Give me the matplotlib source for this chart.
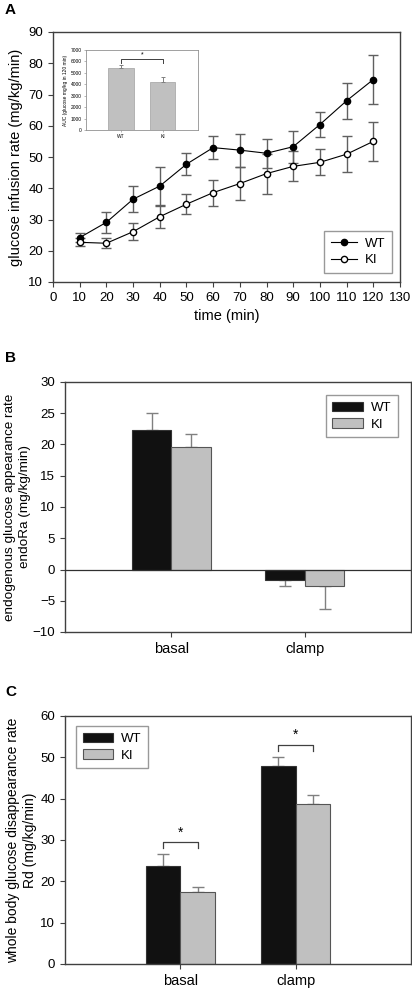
import matplotlib
matplotlib.use("Agg")
import matplotlib.pyplot as plt
import numpy as np

plt.rcParams['font.family'] = ['Liberation Sans', 'DejaVu Sans']

# ---- Panel A data ----
time_min = [10, 20, 30, 40, 50, 60, 70, 80, 90, 100, 110, 120]
gir_wt = [24.2, 29.1, 36.5, 40.7, 47.7, 53.0, 52.2, 51.2, 53.3, 60.4, 68.0, 74.8]
gir_wt_err = [1.4, 3.4, 4.2, 6.2, 3.5, 3.7, 5.3, 4.6, 5.1, 3.9, 5.8, 7.7]
gir_ki = [22.7, 22.4, 26.1, 30.9, 34.9, 38.6, 41.5, 44.7, 47.0, 48.3, 50.9, 55.0]
gir_ki_err = [1.3, 1.6, 2.7, 3.5, 3.2, 4.2, 5.3, 6.4, 4.8, 4.2, 5.7, 6.3]

# inset AUC
auc_groups = ['WT', 'KI']
auc_vals = [5400, 4230]
auc_err = [290, 380]

# ---- Panel B data ----
categories = ['basal', 'clamp']
endora_wt = [22.35, -1.6]
endora_wt_err = [2.65, 1.1]
endora_ki = [19.6, -2.7]
endora_ki_err = [2.05, 3.55]

# ---- Panel C data ----
rd_wt = [23.7, 47.8]
rd_wt_err = [2.8, 2.3]
rd_ki = [17.5, 38.7]
rd_ki_err = [1.2, 2.2]

W, H = 412, 992
fig = plt.figure(figsize=(W / 100, H / 100), dpi=100)

SP = '#404040'
ERR = '#808080'
GRAY = '#c0c0c0'
TFS = 9.5
LFS = 10.5


def style_axes(ax):
    for s in ax.spines.values():
        s.set_color(SP)
        s.set_linewidth(1.0)
    ax.tick_params(axis='both', labelsize=TFS, color=SP, length=3.5, width=0.8)


def fax(l, t, r, b):
    return fig.add_axes([l / W, 1 - b / H, (r - l) / W, (b - t) / H])


# ================= Panel A =================
axA = fax(53, 32, 400, 282)
axA.errorbar(time_min, gir_wt, yerr=gir_wt_err, color='black', lw=0.8,
             marker='o', ms=4.5, mfc='black', mec='black', ecolor='#606060',
             elinewidth=1.0, capsize=3.5, capthick=1.0, label='WT', zorder=3)
axA.errorbar(time_min, gir_ki, yerr=gir_ki_err, color='black', lw=0.8,
             marker='o', ms=4.5, mfc='white', mec='black', ecolor='#606060',
             elinewidth=1.0, capsize=3.5, capthick=1.0, label='KI', zorder=3)
axA.set_xlim(0, 130)
axA.set_ylim(10, 90)
axA.set_xticks(np.arange(0, 131, 10))
axA.set_yticks(np.arange(10, 91, 10))
axA.set_xlabel('time (min)', fontsize=LFS)
axA.set_ylabel('glucose infusion rate (mg/kg/min)', fontsize=LFS, labelpad=4)
style_axes(axA)
hA, lA = axA.get_legend_handles_labels()
hA = [h[0] for h in hA]
legA = axA.legend(hA, lA, loc='lower right', bbox_to_anchor=(0.977, 0.036),
                  borderaxespad=0, fontsize=9.5, frameon=True, fancybox=False,
                  edgecolor='#808080', handlelength=2.0, borderpad=0.5,
                  labelspacing=0.35, handletextpad=0.6)
legA.get_frame().set_linewidth(1.0)

# inset
axI = fax(86, 50, 198, 130)
xi = np.arange(len(auc_groups))
axI.bar(xi, auc_vals, width=0.61, color=GRAY, edgecolor='#a0a0a0', lw=0.5)
axI.errorbar(xi, auc_vals, yerr=[[0, 0], auc_err], fmt='none', ecolor=ERR,
             elinewidth=0.7, capsize=1.5, capthick=0.7)
axI.set_xlim(-0.84, 1.85)
axI.set_ylim(0, 7000)
axI.set_yticks(np.arange(0, 7001, 1000))
axI.set_xticks(xi)
axI.set_xticklabels(auc_groups)
axI.tick_params(axis='both', labelsize=3.5, length=1.5, width=0.4, pad=1.5, color='#808080')
axI.set_ylabel('AUC (glucose mg/kg in 120 min)', fontsize=3.5, labelpad=2)
for s in axI.spines.values():
    s.set_color('#909090')
    s.set_linewidth(0.6)
axI.plot([0, 0, 1, 1], [5830, 6240, 6240, 5830], color='#404040', lw=0.7)
axI.text(0.5, 6300, '*', ha='center', va='bottom', fontsize=5)

fig.text(5 / W, 1 - 10 / H, 'A', fontsize=11, fontweight='bold', va='center', ha='left')

# ================= Panel B =================
axB = fax(65, 382, 411, 632)
xc = np.arange(len(categories))
bw = 0.3
axB.bar(xc - bw / 2, endora_wt, width=bw, color='#111111', edgecolor='#333333', lw=0.8, label='WT', zorder=2)
axB.bar(xc + bw / 2, endora_ki, width=bw, color=GRAY, edgecolor='#555555', lw=0.8, label='KI', zorder=2)
wt_e = [[0 if v >= 0 else e for v, e in zip(endora_wt, endora_wt_err)],
        [e if v >= 0 else 0 for v, e in zip(endora_wt, endora_wt_err)]]
ki_e = [[0 if v >= 0 else e for v, e in zip(endora_ki, endora_ki_err)],
        [e if v >= 0 else 0 for v, e in zip(endora_ki, endora_ki_err)]]
axB.errorbar(xc - bw / 2, endora_wt, yerr=wt_e, fmt='none', ecolor=ERR, elinewidth=1.0,
             capsize=4, capthick=1.0, zorder=1)
axB.errorbar(xc + bw / 2, endora_ki, yerr=ki_e, fmt='none', ecolor=ERR, elinewidth=1.0,
             capsize=4, capthick=1.0, zorder=1)
axB.axhline(0, color='#303030', lw=0.9, zorder=3)
axB.set_xlim(-0.8, 1.8)
axB.set_ylim(-10, 30)
axB.set_yticks(np.arange(-10, 31, 5))
axB.set_xticks(xc)
axB.set_xticklabels(categories)
style_axes(axB)
axB.tick_params(axis='x', labelsize=LFS, pad=4)
fig.text(17.5 / W, 1 - 507 / H, 'endogenous glucose appearance rate\nendoRa (mg/kg/min)',
         rotation=90, ha='center', va='center', multialignment='center',
         fontsize=9.7, linespacing=1.35)
legB = axB.legend(loc='upper right', bbox_to_anchor=(0.962, 0.948), borderaxespad=0,
                  fontsize=9.5, frameon=True, fancybox=False, edgecolor='#808080',
                  handlelength=2.3, handleheight=0.7, borderpad=0.5, labelspacing=0.35,
                  handletextpad=0.6)
legB.get_frame().set_linewidth(1.0)

fig.text(5 / W, 1 - 358 / H, 'B', fontsize=11, fontweight='bold', va='center', ha='left')

# ================= Panel C =================
axC = fax(65, 716, 411, 964)
axC.bar(xc - bw / 2, rd_wt, width=bw, color='#111111', edgecolor='#333333', lw=0.8, label='WT', zorder=2)
axC.bar(xc + bw / 2, rd_ki, width=bw, color=GRAY, edgecolor='#555555', lw=0.8, label='KI', zorder=2)
axC.errorbar(xc - bw / 2, rd_wt, yerr=[[0, 0], rd_wt_err], fmt='none', ecolor=ERR, elinewidth=1.0,
             capsize=4, capthick=1.0, zorder=1)
axC.errorbar(xc + bw / 2, rd_ki, yerr=[[0, 0], rd_ki_err], fmt='none', ecolor=ERR, elinewidth=1.0,
             capsize=4, capthick=1.0, zorder=1)
for i in range(len(categories)):
    top = max(rd_wt[i] + rd_wt_err[i], rd_ki[i] + rd_ki_err[i]) + 3.0
    axC.plot([i - bw / 2, i - bw / 2, i + bw / 2, i + bw / 2],
             [top - 1.5, top, top, top - 1.5], color='#404040', lw=0.9)
    axC.text(i, top + 0.6, '*', ha='center', va='bottom', fontsize=10)
axC.set_xlim(-1.0, 2.0)
axC.set_ylim(0, 60)
axC.set_yticks(np.arange(0, 61, 10))
axC.set_xticks(xc)
axC.set_xticklabels(categories)
style_axes(axC)
axC.tick_params(axis='x', labelsize=LFS, pad=4)
fig.text(21.5 / W, 1 - 840 / H, 'whole body glucose disappearance rate\nRd (mg/kg/min)',
         rotation=90, ha='center', va='center', multialignment='center',
         fontsize=10, linespacing=1.35)
legC = axC.legend(loc='upper left', bbox_to_anchor=(0.032, 0.96), borderaxespad=0,
                  fontsize=9.5, frameon=True, fancybox=False, edgecolor='#808080',
                  handlelength=2.3, handleheight=0.7, borderpad=0.5, labelspacing=0.35,
                  handletextpad=0.6)
legC.get_frame().set_linewidth(1.0)

fig.text(5 / W, 1 - 692 / H, 'C', fontsize=11, fontweight='bold', va='center', ha='left')

fig.savefig('out.png', dpi=100)
